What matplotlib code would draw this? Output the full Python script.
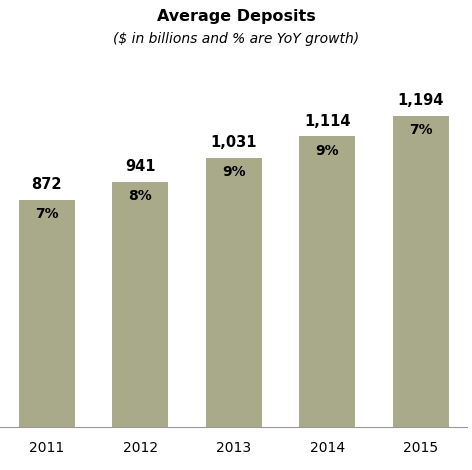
import matplotlib
matplotlib.use("Agg")
import matplotlib.pyplot as plt

years = ["2011", "2012", "2013", "2014", "2015"]
deposits = [872, 941, 1031, 1114, 1194]
growth = ["7%", "8%", "9%", "9%", "7%"]

def main():
    fig = plt.figure(figsize=(4.72, 4.70), dpi=100)
    ax = fig.add_axes([0.0, 0.0915, 0.99, 0.777])
    x = range(len(years))
    ax.bar(x, deposits, width=0.6, color="#a9aa8a")
    for i, (v, g) in enumerate(zip(deposits, growth)):
        ax.text(i, v + 30, f"{v:,}", ha="center", va="bottom", fontsize=10.5, fontweight="bold")
        ax.text(i, v - 55, g, ha="center", va="center", fontsize=10, fontweight="bold")
    ax.set_xlim(-0.5, 4.5)
    ax.set_ylim(0, 1400)
    for s in ["top", "right", "left"]:
        ax.spines[s].set_visible(False)
    ax.spines["bottom"].set_color("#999999")
    ax.set_yticks([])
    ax.set_xticks(list(x))
    ax.set_xticklabels(years, fontsize=10)
    ax.tick_params(axis="x", length=0, pad=10)
    fig.text(0.5, 0.965, "Average Deposits", ha="center", va="center", fontsize=11.5, fontweight="bold")
    fig.text(0.5, 0.918, "($ in billions and % are YoY growth)", ha="center", va="center",
             fontsize=10, style="italic")
    fig.savefig("out.png", dpi=100)

if __name__ == "__main__":
    main()
